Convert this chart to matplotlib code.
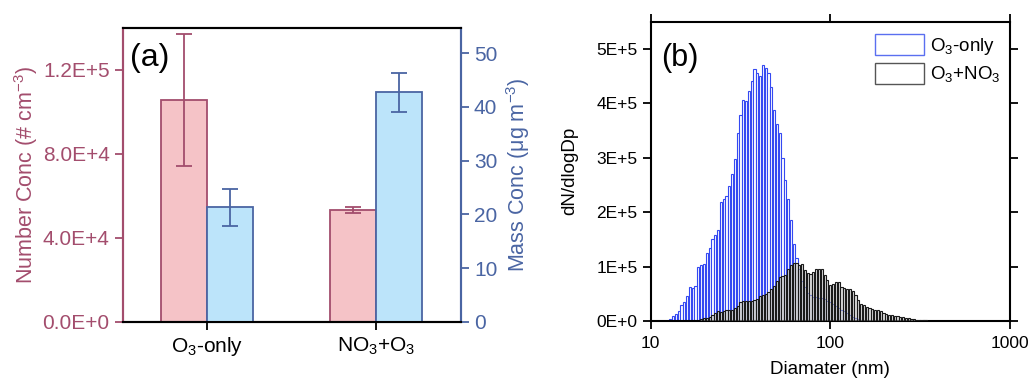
import numpy as np
import matplotlib
matplotlib.use("Agg")
import matplotlib.pyplot as plt
from matplotlib.patches import Patch

plt.rcParams['font.family'] = ['Liberation Sans', 'DejaVu Sans']
plt.rcParams['mathtext.fontset'] = 'custom'
plt.rcParams['mathtext.rm'] = 'Liberation Sans'

# ---- panel (a) data ----
groups = ['O$_\\mathregular{3}$-only', 'NO$_\\mathregular{3}$+O$_\\mathregular{3}$']
number_conc = [1.057e5, 5.33e4]
number_err = [3.15e4, 1.5e3]
mass_conc = [21.3, 42.7]
mass_err = [3.4, 3.6]

# ---- panel (b) data: SMPS bins, 64 channels per decade ----
ch_per_decade = 64
log_d_start = 1.109
# O3-only, dN/dlogDp in units of 1e5, starting at channel 0
o3_only = [0.03, 0.10, 0.13, 0.18, 0.29, 0.35, 0.46, 0.62, 0.60, 0.65,
           1.00, 1.02, 1.04, 1.25, 1.34, 1.50, 1.58, 1.67, 2.18, 2.24,
           2.30, 2.48, 2.70, 2.98, 3.45, 3.78, 4.07, 4.05, 4.22, 4.41,
           4.63, 4.56, 4.51, 4.71, 4.65, 4.55, 4.30, 3.88, 3.62, 3.45,
           2.99, 2.60, 2.25, 1.85, 1.42, 1.15, 0.95, 0.74, 0.62, 0.52,
           0.47, 0.45, 0.44, 0.43, 0.42, 0.40, 0.37, 0.34, 0.31, 0.27,
           0.24, 0.21, 0.18, 0.14, 0.11, 0.08, 0.05, 0.03, 0.01]
# O3+NO3, starting at channel 11
no3_start = 11
o3_no3 = [0.03, 0.05, 0.06, 0.08, 0.11, 0.14, 0.19, 0.17, 0.18, 0.20,
          0.20, 0.21, 0.24, 0.27, 0.34, 0.36, 0.37, 0.37, 0.37, 0.38,
          0.40, 0.46, 0.48, 0.50, 0.54, 0.59, 0.64, 0.73, 0.80, 0.82,
          0.85, 0.95, 1.02, 1.06, 1.07, 1.02, 1.05, 0.94, 0.88, 0.86,
          0.90, 0.95, 0.95, 0.96, 0.84, 0.75, 0.66, 0.68, 0.72, 0.72,
          0.62, 0.60, 0.59, 0.58, 0.55, 0.47, 0.38, 0.32, 0.30, 0.26,
          0.23, 0.22, 0.20, 0.20, 0.18, 0.14, 0.12, 0.11, 0.11, 0.10,
          0.09, 0.08, 0.07, 0.06, 0.05, 0.04, 0.03, 0.02, 0.02, 0.01,
          0.01]

pink_edge = '#A34D6D'
pink_fill = '#F5C3C7'
blue_edge = '#4A65A3'
blue_fill = '#BCE4FA'

fig = plt.figure(figsize=(10.33, 3.81), dpi=100)

# ================= panel (a) =================
ax1 = fig.add_axes([0.119, 0.155, 0.327, 0.7716])
ax2 = ax1.twinx()
x = np.arange(1, len(groups) + 1)
w = 0.272
ax1.bar(x - w / 2, number_conc, w, color=pink_fill, edgecolor=pink_edge, linewidth=1.3, zorder=2)
ax1.errorbar(x - w / 2, number_conc, yerr=number_err, fmt='none', ecolor=pink_edge,
             elinewidth=1.3, capsize=5.5, capthick=1.3, zorder=3)
ax2.bar(x + w / 2, mass_conc, w, color=blue_fill, edgecolor=blue_edge, linewidth=1.3, zorder=2)
ax2.errorbar(x + w / 2, mass_conc, yerr=mass_err, fmt='none', ecolor=blue_edge,
             elinewidth=1.3, capsize=5.5, capthick=1.3, zorder=3)

ax1.set_xlim(0.5, 2.5)
ax1.set_ylim(0, 1.4e5)
ax2.set_ylim(0, 54.7)
ax1.set_xticks(x)
ax1.set_xticklabels(groups, fontsize=15)
ax1.set_yticks([0, 4e4, 8e4, 1.2e5])
ax1.set_yticklabels(['0.0E+0', '4.0E+4', '8.0E+4', '1.2E+5'], fontsize=15, color=pink_edge)
ax2.set_yticks([0, 10, 20, 30, 40, 50])
ax2.set_yticklabels(['0', '10', '20', '30', '40', '50'], fontsize=15, color=blue_edge)
ax1.set_ylabel('Number Conc (# cm$\\mathregular{^{-3}}$)', fontsize=15.5, color=pink_edge, labelpad=2)
ax2.set_ylabel('Mass Conc (μg m$\\mathregular{^{-3}}$)', fontsize=15.5, color=blue_edge, labelpad=5)

for a in (ax1, ax2):
    a.spines['top'].set_linewidth(1.5)
    a.spines['bottom'].set_linewidth(1.5)
    a.spines['left'].set_color(pink_edge)
    a.spines['left'].set_linewidth(1.5)
    a.spines['right'].set_color(blue_edge)
    a.spines['right'].set_linewidth(1.5)
ax1.tick_params(axis='y', colors=pink_edge, width=1.3, length=6)
ax2.tick_params(axis='y', colors=blue_edge, width=1.3, length=6)
ax1.tick_params(axis='x', width=1.3, length=6)
ax1.text(0.02, 0.95, '(a)', transform=ax1.transAxes, fontsize=23, va='top', ha='left')

# ================= panel (b) =================
ax3 = fig.add_axes([0.630, 0.1575, 0.3475, 0.7855])
step = 1.0 / ch_per_decade
frac = 0.78


def draw_bars(ax, start, vals, edge, face, z):
    logc = log_d_start + (start + np.arange(len(vals))) * step
    left = 10 ** (logc - frac * step / 2)
    right = 10 ** (logc + frac * step / 2)
    ax.bar(left, np.array(vals) * 1e5, width=right - left, align='edge',
           facecolor=face, edgecolor=edge, linewidth=0.8, zorder=z)


draw_bars(ax3, 0, o3_only, '#3549F2', 'white', 2)
draw_bars(ax3, no3_start, o3_no3, '#1a1a1a', (0.78, 0.78, 0.78, 0.55), 3)

ax3.set_xscale('log')
ax3.set_xlim(10, 1000)
ax3.set_ylim(0, 5.5e5)
ax3.set_xticks([10, 100, 1000])
ax3.set_xticklabels(['10', '100', '1000'], fontsize=12.5)
ax3.xaxis.set_minor_locator(matplotlib.ticker.NullLocator())
ax3.set_yticks([0, 1e5, 2e5, 3e5, 4e5, 5e5])
ax3.set_yticklabels(['0E+0', '1E+5', '2E+5', '3E+5', '4E+5', '5E+5'], fontsize=12.5)
ax3.set_xlabel('Diamater (nm)', fontsize=13.5, labelpad=7)
ax3.set_ylabel('dN/dlogDp', fontsize=13.5, labelpad=13)
ax3.tick_params(which='both', top=True, right=True, direction='out', width=1.3, length=6)
ax3.tick_params(axis='x', pad=5)
for s in ax3.spines.values():
    s.set_linewidth(1.5)
ax3.text(0.03, 0.93, '(b)', transform=ax3.transAxes, fontsize=22, va='top', ha='left')

handles = [Patch(facecolor='white', edgecolor='#5A6FF0', linewidth=1.0),
           Patch(facecolor='white', edgecolor='#555555', linewidth=1.0)]
ax3.legend(handles, ['O$_\\mathregular{3}$-only', 'O$_\\mathregular{3}$+NO$_\\mathregular{3}$'],
           loc='upper right', frameon=False, fontsize=13.5, handlelength=2.6, handleheight=1.3,
           handletextpad=0.3, labelspacing=0.35, borderaxespad=0.1, bbox_to_anchor=(1.0, 0.99))

fig.savefig('out.png', dpi=100)
